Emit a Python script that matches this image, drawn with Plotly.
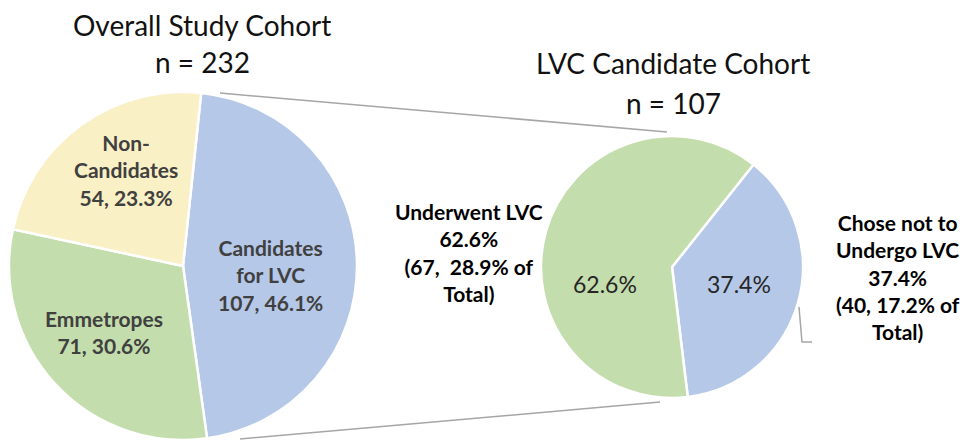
import plotly.graph_objects as go

# ---------------- data ----------------
overall_labels = ["Candidates<br>for LVC", "Emmetropes", "Non-<br>Candidates"]
overall_counts = [107, 71, 54]
overall_colors = ["#B5C8E8", "#C4DDAD", "#FAF0C5"]

lvc_labels = ["Chose not to<br>Undergo LVC", "Underwent LVC"]
lvc_counts = [40, 67]
lvc_colors = ["#B5C8E8", "#C4DDAD"]

overall_title = ["Overall Study Cohort", "n = 232"]
lvc_title = ["LVC Candidate Cohort", "n = 107"]

# ---------------- layout helpers ----------------
W, H = 964, 440
FONT = "Lato"


def px(x):
    return x / W


def py(y):
    return 1 - y / H


total_n = sum(overall_counts)
lvc_n = sum(lvc_counts)

fig = go.Figure()

# left pie (overall cohort)
fig.add_trace(go.Pie(
    labels=overall_labels,
    values=overall_counts,
    sort=False,
    direction="clockwise",
    rotation=6,
    marker=dict(colors=overall_colors, line=dict(color="white", width=2.5)),
    textinfo="none",
    domain=dict(x=[px(9), px(357)], y=[py(440), py(92)]),
    hoverinfo="skip",
    showlegend=False,
))

# right pie (LVC candidate cohort)
fig.add_trace(go.Pie(
    labels=lvc_labels,
    values=lvc_counts,
    sort=False,
    direction="clockwise",
    rotation=38.5,
    marker=dict(colors=lvc_colors, line=dict(color="white", width=2.5)),
    textinfo="none",
    domain=dict(x=[px(541), px(803)], y=[py(398), py(136)]),
    hoverinfo="skip",
    showlegend=False,
))

annotations = []


def add_text(txt, x, y, size, color, bold=False):
    annotations.append(dict(text=txt, x=px(x), y=py(y), xref="paper", yref="paper",
                            xanchor="center", yanchor="middle", showarrow=False,
                            align="center",
                            font=dict(family=FONT, size=size, color=color,
                                      weight="bold" if bold else "normal")))


# titles
add_text(overall_title[0], 202, 25, 28, "#111111")
add_text(overall_title[1], 202, 62, 28, "#111111")
add_text(lvc_title[0], 673, 63, 28, "#111111")
add_text(lvc_title[1], 673, 103, 28, "#111111")

# slice labels on left pie
left_pos = [(270, 275), (104, 332), (126, 170)]
for lab, cnt, (x, y) in zip(overall_labels, overall_counts, left_pos):
    add_text(f"{lab}<br>{cnt}, {100 * cnt / total_n:.1f}%", x, y, 21, "#404040", bold=True)

# inner percentages on right pie
pct_not = 100 * lvc_counts[0] / lvc_n
pct_yes = 100 * lvc_counts[1] / lvc_n
add_text(f"{pct_yes:.1f}%", 605, 284, 23, "#262626")
add_text(f"{pct_not:.1f}%", 739, 284, 23, "#262626")

# outside labels
yes_txt = (f"{lvc_labels[1]}<br>{pct_yes:.1f}%<br>({lvc_counts[1]},  "
           f"{100 * lvc_counts[1] / total_n:.1f}% of<br>Total)")
not_txt = (f"{lvc_labels[0]}<br>{pct_not:.1f}%<br>({lvc_counts[0]}, "
           f"{100 * lvc_counts[0] / total_n:.1f}% of<br>Total)")
add_text(yes_txt, 469, 252, 21, "#000000", bold=True)
add_text(not_txt, 898, 277, 21, "#000000", bold=True)

shapes = []
line_style = dict(color="#A6A6A6", width=1.5)
for (x0, y0), (x1, y1) in [((220, 93), (667, 132)), ((240, 439), (660, 402))]:
    shapes.append(dict(type="line", xref="paper", yref="paper",
                       x0=px(x0), y0=py(y0), x1=px(x1), y1=py(y1), line=line_style))
# leader line for "Chose not to" label
shapes.append(dict(type="path", xref="paper", yref="paper",
                   path=f"M {px(799)},{py(307)} L {px(802)},{py(342)} L {px(812)},{py(342)}",
                   line=line_style))

fig.update_layout(
    width=W, height=H,
    margin=dict(l=0, r=0, t=0, b=0),
    paper_bgcolor="white",
    plot_bgcolor="white",
    annotations=annotations,
    shapes=shapes,
)

fig.write_html("out.html", config={"displayModeBar": False},
               post_script="document.body.style.margin='0';document.body.style.overflow='hidden';")
